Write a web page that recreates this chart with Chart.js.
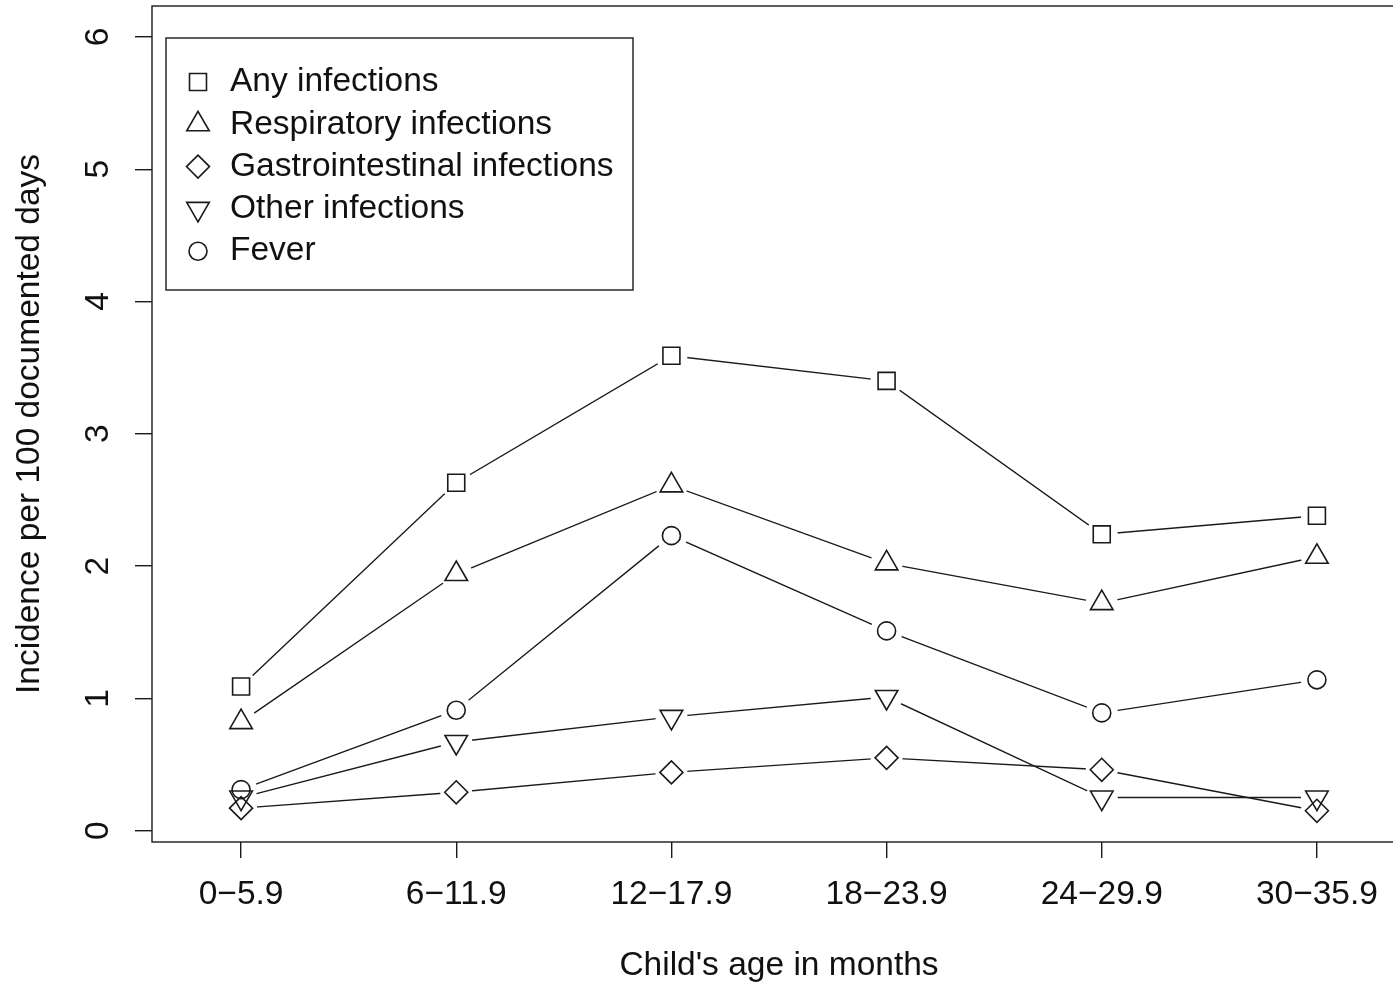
<!DOCTYPE html>
<html>
<head>
<meta charset="utf-8">
<title>Incidence of infections by age</title>
<script src="https://cdn.jsdelivr.net/npm/chart.js@4.4.1/dist/chart.umd.min.js"></script>
<style>
  html, body { margin: 0; padding: 0; background: #fff; overflow: hidden; }
  canvas { display: block; }
</style>
</head>
<body>
<canvas id="chart" width="1406" height="985"></canvas>
<script>
// Age groups (months) and incidence per 100 documented days
const ageGroups = ['0\u22125.9', '6\u221211.9', '12\u221217.9', '18\u221223.9', '24\u221229.9', '30\u221235.9'];
const anyInfections     = [1.09, 2.63, 3.59, 3.40, 2.24, 2.38];
const respiratory       = [0.82, 1.94, 2.61, 2.02, 1.72, 2.07];
const gastrointestinal  = [0.17, 0.29, 0.44, 0.55, 0.46, 0.15];
const otherInfections   = [0.25, 0.67, 0.86, 1.01, 0.25, 0.25];
const fever             = [0.31, 0.91, 2.23, 1.51, 0.89, 1.14];
const yTicks = [0, 1, 2, 3, 4, 5, 6];

const INK = '#1a1a1a';
const FONT = '"Liberation Sans", Arial, Helvetica, sans-serif';
const FONT_SIZE = 33.5;

// Marker for each series (R-style open symbols)
const series = [
  { label: 'Any infections',             values: anyInfections,    style: 'rect',     radius: 12,   rotation: 0 },
  { label: 'Respiratory infections',     values: respiratory,      style: 'triangle', radius: 13,   rotation: 0 },
  { label: 'Gastrointestinal infections',values: gastrointestinal, style: 'rectRot',  radius: 11.5, rotation: 0 },
  { label: 'Other infections',           values: otherInfections,  style: 'triangle', radius: 13,   rotation: 180 },
  { label: 'Fever',                      values: fever,            style: 'circle',   radius: 9,    rotation: 0 }
];

const toPoints = vals => vals.map((v, i) => ({ x: i + 1, y: v }));

const datasets = [];
// connecting lines (drawn underneath, with a gap around every point)
series.forEach(s => datasets.push({
  label: s.label,
  data: toPoints(s.values),
  showLine: true,
  borderColor: INK,
  borderWidth: 1.4,
  pointRadius: 0,
  pointHoverRadius: 0,
  fill: false,
  tension: 0,
  gapRadius: 16,
  order: 2
}));
// open markers
series.forEach(s => datasets.push({
  label: s.label + ' markers',
  data: toPoints(s.values),
  showLine: false,
  pointStyle: s.style,
  pointRadius: s.radius,
  pointRotation: s.rotation,
  pointBorderColor: INK,
  pointBackgroundColor: 'rgba(255,255,255,0)',
  pointBorderWidth: 1.6,
  order: 1
}));

// Leave a blank gap around each point on the connecting lines
const markerGaps = {
  id: 'markerGaps',
  beforeDatasetDraw(chart, args) {
    const ds = chart.data.datasets[args.index];
    if (!ds.gapRadius) return;
    const ctx = chart.ctx;
    ctx.save();
    ctx.beginPath();
    ctx.rect(0, 0, chart.width, chart.height);
    args.meta.data.forEach(pt => {
      ctx.moveTo(pt.x + ds.gapRadius, pt.y);
      ctx.arc(pt.x, pt.y, ds.gapRadius, 0, Math.PI * 2);
    });
    ctx.clip('evenodd');
  },
  afterDatasetDraw(chart, args) {
    if (chart.data.datasets[args.index].gapRadius) chart.ctx.restore();
  }
};

// Box round the plotting region
const frame = {
  id: 'frame',
  afterDraw(chart) {
    const { ctx, chartArea: a } = chart;
    ctx.save();
    ctx.strokeStyle = INK;
    ctx.lineWidth = 1.4;
    ctx.strokeRect(a.left, a.top, a.right - a.left, a.bottom - a.top);
    ctx.restore();
  }
};

// Boxed legend in the top-left corner of the plot
const boxLegend = {
  id: 'boxLegend',
  afterDraw(chart) {
    const { ctx, chartArea: a } = chart;
    const x0 = a.left + 14, y0 = a.top + 32, w = 467, h = 252;
    const rowStep = 42.3;
    ctx.save();
    ctx.fillStyle = '#fff';
    ctx.fillRect(x0, y0, w, h);
    ctx.strokeStyle = INK;
    ctx.lineWidth = 1.4;
    ctx.strokeRect(x0, y0, w, h);
    series.forEach((s, i) => {
      const cy = y0 + 44 + i * rowStep;
      const cx = x0 + 32;
      ctx.fillStyle = 'rgba(255,255,255,0)';
      ctx.strokeStyle = INK;
      ctx.lineWidth = 1.6;
      Chart.helpers.drawPoint(ctx, { pointStyle: s.style, radius: s.radius, rotation: s.rotation, borderWidth: 1.6 }, cx, cy);
      ctx.fillStyle = '#111';
      ctx.font = FONT_SIZE + 'px ' + FONT;
      ctx.textAlign = 'left';
      ctx.textBaseline = 'middle';
      ctx.fillText(s.label, x0 + 64, cy);
    });
    ctx.restore();
  }
};

Chart.defaults.font.family = FONT;
Chart.defaults.font.size = FONT_SIZE;
Chart.defaults.color = '#111';

new Chart(document.getElementById('chart'), {
  type: 'line',
  data: { datasets },
  options: {
    responsive: false,
    devicePixelRatio: 1,
    animation: false,
    events: [],
    layout: { autoPadding: false, padding: { top: 6, right: 0, left: 0, bottom: 0 } },
    plugins: { legend: { display: false }, tooltip: { enabled: false } },
    scales: {
      x: {
        type: 'linear',
        min: 0.586,
        max: 6.414,
        afterBuildTicks: scale => { scale.ticks = ageGroups.map((_, i) => ({ value: i + 1 })); },
        afterFit: scale => { scale.height = 143; scale.paddingLeft = 0; scale.paddingRight = 0; },
        border: { display: false },
        grid: { drawOnChartArea: false, drawTicks: true, tickLength: 16, color: INK, lineWidth: 1.4 },
        ticks: {
          autoSkip: false, maxRotation: 0, minRotation: 0, padding: 17, color: '#111',
          callback: v => ageGroups[Math.round(v) - 1] ?? ''
        },
        title: { display: true, text: "Child's age in months", color: '#111', padding: { top: 0, bottom: -1 } }
      },
      y: {
        type: 'linear',
        min: -0.086,
        max: 6.234,
        afterBuildTicks: scale => { scale.ticks = yTicks.map(v => ({ value: v })); },
        afterFit: scale => { scale.width = 152; scale.paddingTop = 0; scale.paddingBottom = 0; },
        border: { display: false },
        grid: { drawOnChartArea: false, drawTicks: true, tickLength: 17, color: INK, lineWidth: 1.4 },
        ticks: { minRotation: 90, maxRotation: 90, crossAlign: 'center', padding: 27, color: '#111' },
        title: { display: true, text: 'Incidence per 100 documented days', color: '#111', padding: { top: 10, bottom: 0 } }
      }
    }
  },
  plugins: [markerGaps, frame, boxLegend]
});
</script>
</body>
</html>
